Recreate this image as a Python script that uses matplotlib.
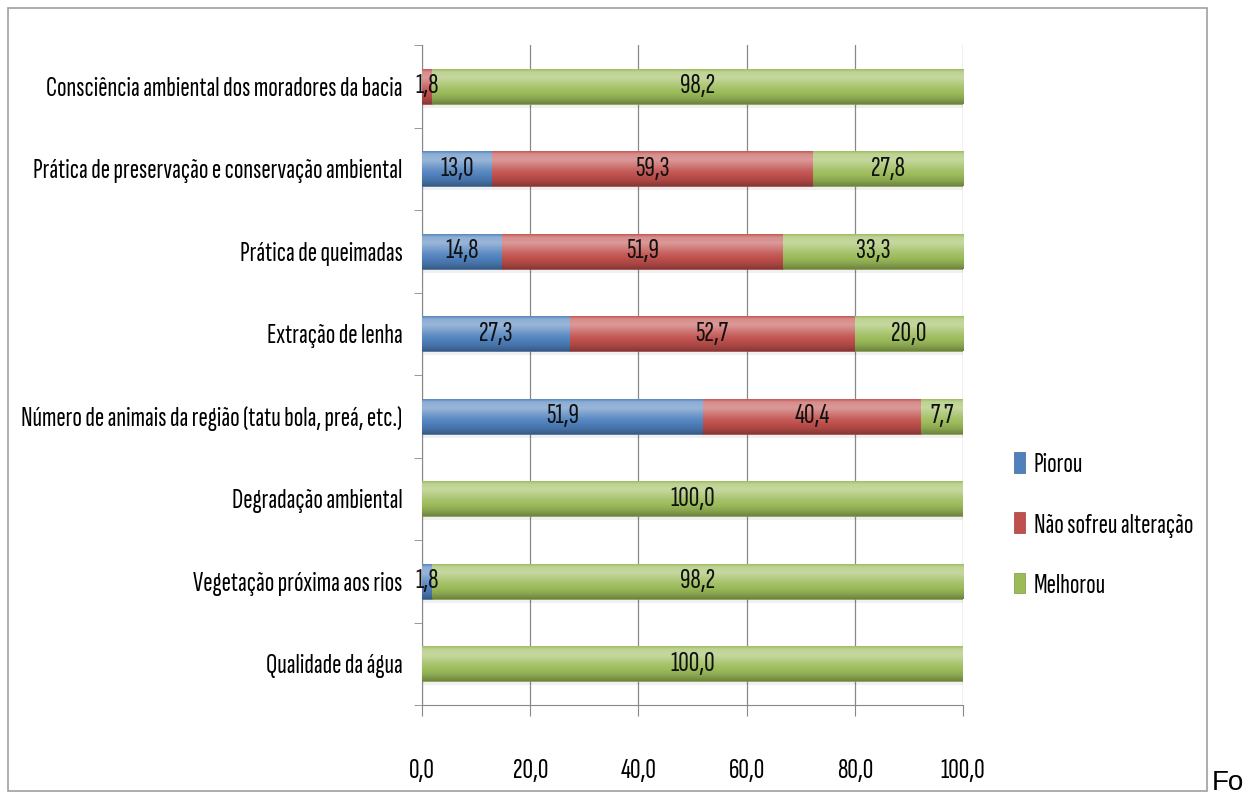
import matplotlib
matplotlib.use("Agg")
import matplotlib.pyplot as plt
import matplotlib.font_manager as fm
import numpy as np
from matplotlib.colors import to_rgb

names = {f.name for f in fm.fontManager.ttflist}
FONT = "DejaVu Sans"
for cand in ["Sofia Sans Extra Condensed", "Pathway Gothic One", "Open Sans Condensed"]:
    if cand in names:
        FONT = cand
        break
plt.rcParams['font.family'] = [FONT, 'DejaVu Sans']

categories = [
    "Consciência ambiental dos moradores da bacia",
    "Prática de preservação e conservação ambiental",
    "Prática de queimadas",
    "Extração de lenha",
    "Número de animais da região (tatu bola, preá, etc.)",
    "Degradação ambiental",
    "Vegetação próxima aos rios",
    "Qualidade da água",
]
piorou = [0.0, 13.0, 14.8, 27.3, 51.9, 0.0, 1.8, 0.0]
nao_sofreu = [1.8, 59.3, 51.9, 52.7, 40.4, 0.0, 0.0, 0.0]
melhorou = [98.2, 27.8, 33.3, 20.0, 7.7, 100.0, 98.2, 100.0]
series_names = ["Piorou", "Não sofreu alteração", "Melhorou"]
colors = ["#4F81BD", "#C0504D", "#9BBB59"]
xticks = [0, 20, 40, 60, 80, 100]

FS = 21
FSY = 20.2
W, H = 1255, 796
fig = plt.figure(figsize=(W/100, H/100), dpi=100)
fig.patches.append(plt.Rectangle((8/W, 1-791/H), (1207-8)/W, (791-8)/H,
                                 transform=fig.transFigure, fill=False,
                                 edgecolor="#A0A0A0", linewidth=1.2))
ax = fig.add_axes([422/W, 1-705/H, (963-422)/W, (705-45)/H])

n = len(categories)
y = np.arange(n)[::-1]
data = [piorou, nao_sofreu, melhorou]
left = np.zeros(n)
bh = 0.42

def shade(c, f):
    r = np.array(to_rgb(c))
    if f >= 0:
        return tuple(r + (1 - r) * f)
    return tuple(r * (1 + f))

gpts = [0.0, 0.08, 0.25, 0.55, 0.85, 1.0]
fpts = [0.05, 0.35, 0.42, 0.10, -0.12, -0.30]
grad = np.linspace(0, 1, 80)
fvals = np.interp(grad, gpts, fpts)

for vals, col, name in zip(data, colors, series_names):
    vals = np.array(vals)
    ax.barh(y - 0.05, vals, left=left, height=bh, color="#000000", alpha=0.06,
            linewidth=0, zorder=2)
    bars = ax.barh(y, vals, left=left, height=bh, color=col, edgecolor=shade(col, -0.2),
                   linewidth=0.5, label=name, zorder=3)
    img = np.array([shade(col, f) for f in fvals])[:, None, :]
    for b, v in zip(bars, vals):
        if v <= 0:
            continue
        x0, y0 = b.get_x(), b.get_y()
        im = ax.imshow(img, extent=(x0, x0 + b.get_width(), y0, y0 + bh),
                       aspect='auto', zorder=3.5, origin='upper', interpolation='bilinear')
        im.set_clip_path(b)
    for yi, l, v in zip(y, left, vals):
        if v > 0:
            ax.text(l + v / 2, yi, f"{v:.1f}".replace(".", ","), ha='center', va='center',
                    fontsize=FS, color="#111111", zorder=5)
    left = left + vals

ax.set_xlim(0, 100)
ax.set_ylim(-0.5, n - 0.5)
ax.set_xticks(xticks)
ax.set_xticklabels([f"{t:.1f}".replace(".", ",") for t in xticks], fontsize=FS)
ax.set_yticks(y)
ax.set_yticklabels(categories, fontsize=FSY)
ax.set_yticks(np.arange(-0.5, n, 1.0), minor=True)
ax.tick_params(axis='y', which='major', length=0, pad=14)
ax.tick_params(axis='y', which='minor', length=6, color="#888888", direction='out')
ax.tick_params(axis='x', length=8, color="#888888", pad=31, direction='out')
ax.grid(axis='x', color="#888888", linewidth=0.9, zorder=0)
for s in ['top', 'right']:
    ax.spines[s].set_visible(False)
ax.spines['left'].set_color("#888888")
ax.spines['bottom'].set_color("#888888")
ax.set_axisbelow(True)

handles, labels = ax.get_legend_handles_labels()
leg = fig.legend(handles, labels, loc='center left', bbox_to_anchor=(1014/W, 1-525/H),
                 frameon=False, fontsize=FSY, handlelength=0.4, handleheight=0.75,
                 handletextpad=0.3, labelspacing=1.25, borderpad=0, borderaxespad=0)

fig.text(1212/W, 1-796/H, "Fo", fontsize=20, family="Liberation Sans", ha='left', va='bottom')

fig.savefig("out.png", dpi=100)
